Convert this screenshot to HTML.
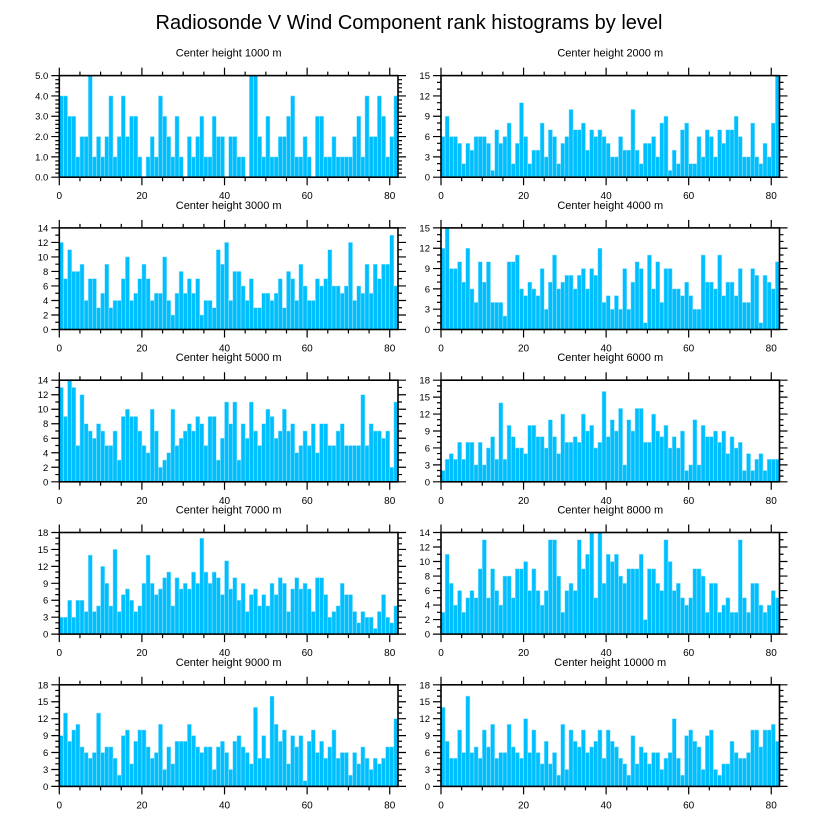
<!DOCTYPE html>
<html><head><meta charset="utf-8"><style>
html,body{margin:0;padding:0;background:#fff;}
svg{display:block;font-family:"Liberation Sans",sans-serif;}
</style></head><body>
<svg id="chart" width="818" height="824" viewBox="0 0 818 824" xmlns="http://www.w3.org/2000/svg">
<text x="409" y="29" text-anchor="middle" font-size="20" fill="#000">Radiosonde V Wind Component rank histograms by level</text>
</svg>
<script>
const panelTitles = ["Center height 1000 m","Center height 2000 m","Center height 3000 m","Center height 4000 m","Center height 5000 m","Center height 6000 m","Center height 7000 m","Center height 8000 m","Center height 9000 m","Center height 10000 m"];
const yMaxes = [5,15,14,15,14,18,18,14,18,18];
const yStepMajor = [1,3,2,3,2,3,3,2,3,3];
const yStepMinor = [0.2,1,1,1,1,1,1,1,1,1];
const xTickLabels = [0,20,40,60,80];
const counts1000 = [4,4,3,3,1,2,2,5,1,2,1,2,4,1,2,4,2,3,3,1,0,1,2,1,4,3,2,1,3,1,0,2,1,2,3,1,1,3,2,2,0,2,2,1,1,0,5,5,2,1,3,1,1,2,2,3,4,1,1,2,1,0,3,3,1,1,2,1,1,1,1,2,3,1,4,2,2,4,3,1,2,4];
const counts2000 = [6,9,6,6,5,2,5,4,6,6,6,5,1,7,5,6,8,2,5,11,6,2,4,4,8,3,7,6,2,5,6,10,7,7,8,4,7,6,7,6,5,3,3,6,4,4,10,4,2,5,5,6,3,8,9,1,4,2,7,8,2,2,6,3,7,6,3,7,5,7,7,9,6,3,3,8,3,2,5,3,8,15];
const counts3000 = [12,7,11,8,8,9,4,7,7,3,5,9,3,4,4,7,10,4,5,7,9,7,4,5,5,10,4,2,5,8,5,7,5,7,2,4,4,3,11,9,12,4,8,8,6,4,7,3,3,5,5,4,5,7,3,8,7,4,9,6,4,4,7,6,7,11,6,6,5,6,12,4,6,5,9,5,9,7,9,9,13,6];
const counts4000 = [12,15,9,9,10,7,12,6,4,10,7,10,4,4,4,2,10,10,11,6,5,7,6,5,9,3,7,11,6,7,8,8,6,8,9,6,9,8,12,4,5,3,5,3,9,3,7,10,9,1,11,6,10,4,9,9,6,6,5,7,5,3,3,11,7,7,6,11,5,7,7,5,9,4,4,9,8,1,8,7,6,10];
const counts5000 = [13,9,14,13,5,12,8,7,6,8,7,5,5,7,3,9,10,9,9,7,5,4,10,7,2,3,4,10,5,6,7,8,7,9,8,5,9,9,3,6,11,8,11,3,8,6,11,7,5,8,10,9,6,7,10,7,8,4,5,7,5,8,4,8,8,5,5,7,8,5,5,5,5,12,5,8,7,7,6,7,2,11];
const counts6000 = [2,4,5,4,7,4,7,7,3,7,3,6,8,4,14,4,10,8,6,6,5,10,10,8,8,6,11,8,5,12,7,7,8,7,12,9,10,6,7,16,8,11,9,13,3,11,9,13,13,7,7,12,9,8,10,6,8,6,9,2,3,11,3,10,8,8,9,7,9,5,8,6,7,2,5,2,4,5,2,4,4,4];
const counts7000 = [3,3,6,3,6,6,4,14,4,5,12,9,5,15,4,7,8,6,4,5,9,14,9,7,8,10,11,5,10,8,9,8,11,9,17,11,9,11,10,7,13,8,10,6,9,4,7,8,5,7,5,9,7,10,9,4,8,10,8,9,8,4,10,10,7,3,4,5,9,7,7,4,2,4,3,3,1,4,7,3,2,5];
const counts8000 = [3,11,7,4,6,3,5,6,5,9,13,5,9,6,4,8,8,5,9,9,10,6,9,6,4,6,13,13,8,3,6,7,6,13,9,11,14,5,14,7,11,10,11,8,7,9,9,9,11,2,9,9,7,6,13,10,6,7,5,4,5,9,9,8,3,7,7,3,4,5,3,3,13,5,3,7,7,4,3,4,6,5];
const counts9000 = [9,13,8,10,11,7,6,5,6,13,6,7,7,5,2,9,10,4,8,10,10,7,5,6,11,3,7,4,8,8,8,11,9,7,6,7,7,3,7,8,6,3,8,9,7,6,4,14,5,9,5,16,11,8,10,4,9,7,9,1,8,10,6,8,5,7,10,5,6,6,2,6,4,7,5,3,5,4,5,7,7,12];
const counts10000 = [14,8,5,5,10,6,16,6,7,5,10,7,11,5,6,6,11,7,6,5,12,6,10,6,4,8,4,6,2,11,3,10,8,7,10,6,7,8,10,5,10,8,7,5,4,2,9,4,7,6,4,6,6,3,5,6,12,5,2,9,10,8,7,3,9,10,3,2,4,4,8,6,5,5,6,10,10,7,10,10,11,8];
const allCounts = [counts1000,counts2000,counts3000,counts4000,counts5000,counts6000,counts7000,counts8000,counts9000,counts10000];

const svg = document.getElementById('chart');
const NS = 'http://www.w3.org/2000/svg';
function mk(tag, attrs){const e=document.createElementNS(NS,tag);for(const k in attrs)e.setAttribute(k,attrs[k]);return e;}
const XMAX = 82;
for (let p=0;p<10;p++){
  const col=p%2, row=Math.floor(p/2);
  const L = col===0?59.3:441, R = col===0?398:779.5;
  const T = 75.6+152.3*row, B = T+101.6;
  const ymax=yMaxes[p];
  const xs = v => L + (v/XMAX)*(R-L);
  const ys = v => B - (v/ymax)*(B-T);
  const g = mk('g',{});
  
  
  svg.appendChild(g);
  const title = mk('text',{x:(L+R)/2,y:T-19,'text-anchor':'middle','font-size':'11',fill:'#000'});
  
  
  title.textContent=panelTitles[p];
  g.appendChild(title);
  const data=allCounts[p];
  data.forEach((v,i)=>{
    const x0=xs(i), x1=xs(i+1);
    const r=mk('rect',{x:x0,y:ys(v),width:Math.max(0,x1-x0),height:B-ys(v),fill:'#00bfff',stroke:'#9fe6ff','stroke-width':'0.5'});
    
    
    g.appendChild(r);
  });
  // frame
  const fr=mk('rect',{x:L,y:T,width:R-L,height:B-T,fill:'none',stroke:'#000','stroke-width':'1.6'});
  
  
  g.appendChild(fr);
  let d='';
  // x ticks
  for(let v=0;v<=XMAX;v+=5){
    const major = v%20===0; const len=major?8:4; const x=xs(v);
    d+=`M${x},${B}v${len}M${x},${T}v${-len}`;
  }
  // y ticks
  const nMin=Math.round(ymax/yStepMinor[p]);
  for(let k=0;k<=nMin;k++){
    const v=k*yStepMinor[p];
    const major=Math.abs(v/yStepMajor[p]-Math.round(v/yStepMajor[p]))<1e-6;
    const len=major?8:4; const y=ys(v);
    d+=`M${L},${y}h${-len}M${R},${y}h${len}`;
  }
  const tk=mk('path',{d:d,stroke:'#000','stroke-width':'1.2',fill:'none'});
  
  
  g.appendChild(tk);
  xTickLabels.forEach(v=>{
    const t=mk('text',{x:xs(v),y:B+22,'text-anchor':'middle','font-size':'10',fill:'#000'});
    
    
    t.textContent=v;
    g.appendChild(t);
  });
  for(let v=0;v<=ymax+1e-9;v+=yStepMajor[p]){
    const t=mk('text',{x:L-11,y:ys(v)+3.5,'text-anchor':'end','font-size':'9.5',fill:'#000'});
    
    
    t.textContent = p===0 ? v.toFixed(1) : String(v);
    g.appendChild(t);
  }
}
</script>
</body></html>
